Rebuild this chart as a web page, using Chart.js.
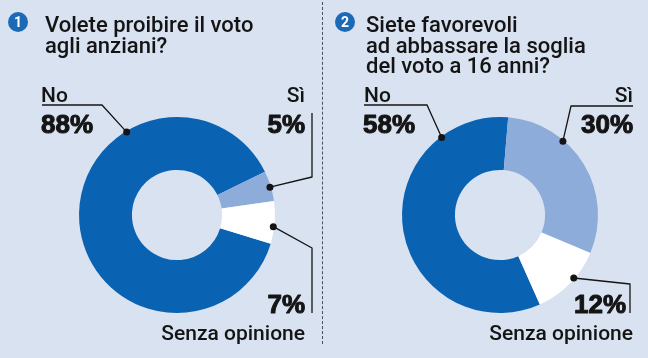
<!DOCTYPE html>
<html>
<head>
<meta charset="utf-8">
<script src="https://cdn.jsdelivr.net/npm/chart.js@4"></script>
<style>
  html, body { margin: 0; padding: 0; background: #d9e2f0; }
  #wrap { position: relative; width: 648px; height: 358px; overflow: hidden; }
  canvas { position: absolute; top: 0; }
  #c1 { left: 0; }
  #c2 { left: 324px; }
  #divider { position: absolute; left: 322px; top: 2px; height: 342px; width: 0; border-left: 1.5px dashed #4a4f5a; }
</style>
</head>
<body>
<div id="wrap">
  <canvas id="c1" width="324" height="358"></canvas>
  <canvas id="c2" width="324" height="358"></canvas>
  <div id="divider"></div>
</div>
<script>
// categories and values
const categories = ["No", "Sì", "Senza opinione"];
const values_q1 = [88, 5, 7];
const values_q2 = [58, 30, 12];
const title_q1 = ["Volete proibire il voto", "agli anziani?"];
const title_q2 = ["Siete favorevoli", "ad abbassare la soglia", "del voto a 16 anni?"];

const colors = ['#0a63b2', '#8eacd9', '#ffffff'];
const INK = '#141414';
const FONT_TXT = 'Roboto, "Liberation Sans", Arial, sans-serif';
const FONT_NUM = '"Liberation Sans", Arial, sans-serif';

// draws title, labels and leader lines on top of the doughnut
const calloutPlugin = {
    id: 'callouts',
    afterDraw(chart, args, opts) {
        const ctx = chart.ctx;
        const meta = chart.getDatasetMeta(0);
        const vals = chart.data.datasets[0].data;
        ctx.save();

        // numbered circle
        ctx.fillStyle = '#1c6ab6';
        ctx.beginPath();
        ctx.arc(opts.badge[0], opts.badge[1], 10, 0, Math.PI * 2);
        ctx.fill();
        ctx.fillStyle = '#ffffff';
        ctx.font = 'bold 14px ' + FONT_TXT;
        ctx.textAlign = 'center';
        ctx.textBaseline = 'middle';
        ctx.fillText(opts.num, opts.badge[0], opts.badge[1] + 1);

        // title
        ctx.fillStyle = INK;
        ctx.textAlign = 'left';
        ctx.textBaseline = 'alphabetic';
        ctx.font = '500 22px ' + FONT_TXT;
        opts.title.forEach((line, i) => {
            ctx.fillText(line, opts.titleX, 32 + i * 20.5);
        });

        // labels
        opts.labels.forEach((lb) => {
            const arc = meta.data[lb.index];
            const a = arc.startAngle + lb.t * (arc.endAngle - arc.startAngle);
            const r = arc.outerRadius - 1;
            const dx = arc.x + r * Math.cos(a);
            const dy = arc.y + r * Math.sin(a);

            ctx.strokeStyle = INK;
            ctx.lineWidth = 1.3;
            ctx.beginPath();
            lb.path.forEach((p, i) => {
                if (i === 0) ctx.moveTo(p[0], p[1]); else ctx.lineTo(p[0], p[1]);
            });
            ctx.lineTo(dx, dy);
            ctx.stroke();

            ctx.fillStyle = INK;
            ctx.beginPath();
            ctx.arc(dx, dy, 3.5, 0, Math.PI * 2);
            ctx.fill();

            ctx.textAlign = lb.align;
            ctx.font = '500 21px ' + FONT_TXT;
            ctx.fillText(chart.data.labels[lb.index], lb.nameX, lb.nameY);
            // heavier look for the percentages
            ctx.font = 'bold 26px ' + FONT_NUM;
            ctx.lineWidth = 1;
            ctx.lineJoin = 'round';
            ctx.strokeText(vals[lb.index] + '%', lb.pctX, lb.pctY);
            ctx.fillText(vals[lb.index] + '%', lb.pctX, lb.pctY);
        });

        ctx.restore();
    }
};

function makeChart(id, values, rotation, padding, callouts) {
    return new Chart(document.getElementById(id), {
        type: 'doughnut',
        data: {
            labels: categories,
            datasets: [{
                data: values,
                backgroundColor: colors,
                borderWidth: 0,
                hoverOffset: 0
            }]
        },
        options: {
            responsive: false,
            animation: false,
            rotation: rotation,
            cutout: '46%',
            layout: { padding: padding },
            plugins: {
                legend: { display: false },
                tooltip: { enabled: false },
                callouts: callouts
            }
        },
        plugins: [calloutPlugin]
    });
}

makeChart('c1', values_q1, 107, { left: 79, right: 49, top: 117, bottom: 45 }, {
    num: '1',
    badge: [18, 22],
    title: title_q1,
    titleX: 45,
    labels: [
        { index: 0, t: 0.70, align: 'left', nameX: 41, nameY: 102, pctX: 41, pctY: 133,
          path: [[42, 105], [102, 105]] },
        { index: 1, t: 0.53, align: 'right', nameX: 305, nameY: 102, pctX: 305, pctY: 133,
          path: [[312, 113], [312, 177]] },
        { index: 2, t: 0.60, align: 'right', nameX: 305, nameY: 340, pctX: 305, pctY: 313,
          path: [[312, 313], [312, 248]] }
    ]
});

makeChart('c2', values_q2, 156, { left: 78, right: 50, top: 117, bottom: 45 }, {
    num: '2',
    badge: [21, 22],
    title: title_q2,
    titleX: 42,
    labels: [
        { index: 0, t: 0.80, align: 'left', nameX: 40, nameY: 102, pctX: 39, pctY: 133,
          path: [[40, 105], [103, 105]] },
        { index: 1, t: 0.33, align: 'right', nameX: 309, nameY: 102, pctX: 309, pctY: 133,
          path: [[309, 106], [247, 106]] },
        { index: 2, t: 0.41, align: 'right', nameX: 309, nameY: 340, pctX: 302, pctY: 313,
          path: [[306, 313], [306, 284]] }
    ]
});
</script>
</body>
</html>
